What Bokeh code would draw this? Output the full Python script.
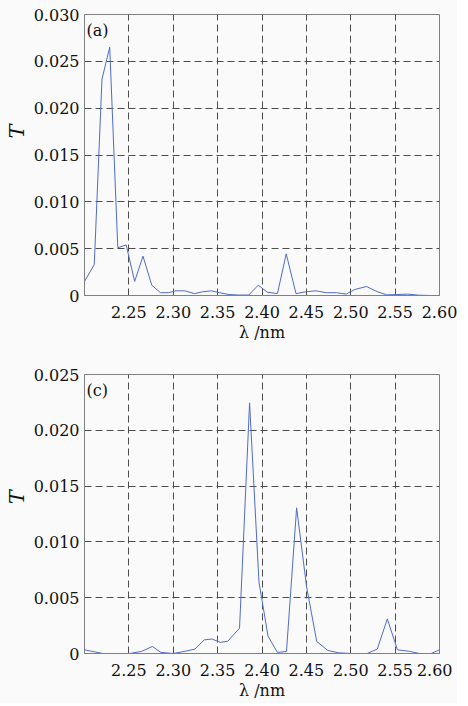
from bokeh.plotting import figure
from bokeh.layouts import column
from bokeh.models import FixedTicker, NumeralTickFormatter, Range1d, Label
from bokeh.embed import file_html
from bokeh.resources import INLINE

# Panel (a)
lam_a = [2.200, 2.211, 2.2197, 2.2284, 2.2375, 2.247, 2.2565, 2.2659, 2.2758, 2.2856,
         2.2947, 2.303, 2.313, 2.324, 2.333, 2.343, 2.352, 2.363, 2.374, 2.385,
         2.3958, 2.406, 2.4174, 2.4273, 2.4383, 2.4497, 2.461, 2.4724, 2.4838, 2.495,
         2.5045, 2.5178, 2.530, 2.5406, 2.552, 2.564, 2.577, 2.590, 2.600]
T_a = [0.0015, 0.0033, 0.0231, 0.0265, 0.0051, 0.0054, 0.0015, 0.0042, 0.0011, 0.0003,
       0.0003, 0.0005, 0.0005, 0.0002, 0.0004, 0.0005, 0.0003, 0.0001, 0.00005, 0.00005,
       0.0011, 0.00035, 0.0002, 0.00445, 0.0002, 0.0004, 0.0005, 0.0003, 0.0003, 0.00015,
       0.00064, 0.00096, 0.0004, 0.00007, 0.0001, 0.00015, 0.00003, 0.0, 0.0]

# Panel (c)
lam_c = [2.200, 2.2205, 2.2508, 2.264, 2.2765, 2.286, 2.300, 2.3133, 2.3246, 2.3349,
         2.3435, 2.353, 2.3614, 2.3747, 2.386, 2.3966, 2.4068, 2.4174, 2.4276, 2.439,
         2.4503, 2.4617, 2.4742, 2.4864, 2.500, 2.5185, 2.5299, 2.5412, 2.5526, 2.5659,
         2.5773, 2.5906, 2.600]
T_c = [0.00033, 0.0, 0.0, 0.00018, 0.00063, 0.0001, 0.0, 0.0002, 0.0004, 0.00122,
       0.0013, 0.001, 0.0011, 0.00227, 0.02246, 0.0064, 0.00155, 0.0001, 0.00018, 0.01305,
       0.00594, 0.00107, 0.00027, 0.00006, 0.0, 0.0, 0.0004, 0.0031, 0.00033, 0.0002,
       0.0, 0.0, 0.00033]

x_ticks = [2.25, 2.30, 2.35, 2.40, 2.45, 2.50, 2.55, 2.60]
y_ticks_a = [0, 0.005, 0.010, 0.015, 0.020, 0.025, 0.030]
y_ticks_c = [0, 0.005, 0.010, 0.015, 0.020, 0.025]

FONT = "DejaVu Serif"
BG = "#fafafa"
LINE = "#4f6bc9"
GRID = "#4d4d4d"
FRAME = "#808080"
NBSP = "\u00a0"


def make(lam, T, yticks, ymax, tag, border_left, border_right, border_top, border_bottom,
         fh, lift):
    p = figure(frame_width=355, frame_height=fh, output_backend="svg", toolbar_location=None,
               x_range=Range1d(2.2, 2.6), y_range=Range1d(0, ymax),
               min_border_left=border_left, min_border_right=border_right,
               min_border_top=border_top, min_border_bottom=border_bottom)
    p.background_fill_color = BG
    p.border_fill_color = BG
    p.outline_line_color = FRAME
    p.outline_line_width = 1
    p.line(lam, T, line_color=LINE, line_width=1)

    p.xaxis.ticker = FixedTicker(ticks=x_ticks)
    p.yaxis.ticker = FixedTicker(ticks=yticks)
    p.xaxis.formatter = NumeralTickFormatter(format="0.00")
    p.yaxis.formatter = NumeralTickFormatter(format="0.000")
    p.yaxis.major_label_overrides = {0: "0"}
    for ax in (p.xaxis, p.yaxis):
        ax.major_tick_out = 0
        ax.major_tick_in = 0
        ax.minor_tick_out = 0
        ax.minor_tick_in = 0
        ax.axis_line_color = FRAME
        ax.major_label_text_font = FONT
        ax.major_label_text_font_size = "16px"
        ax.major_label_text_color = "#111111"
        ax.axis_label_text_font = FONT
        ax.axis_label_text_color = "#111111"
    p.xaxis.major_label_standoff = 10
    p.yaxis.major_label_standoff = 5
    p.xaxis.axis_label = "λ /nm"
    p.xaxis.axis_label_text_font_size = "16px"
    p.xaxis.axis_label_text_font_style = "normal"
    p.xaxis.axis_label_standoff = 2
    p.yaxis.axis_label = NBSP * lift + "T"
    p.yaxis.axis_label_text_font_size = "21px"
    p.yaxis.axis_label_text_font_style = "italic"
    p.yaxis.axis_label_standoff = 2

    p.xgrid.grid_line_color = GRID
    p.ygrid.grid_line_color = GRID
    p.xgrid.grid_line_dash = "7 4"
    p.ygrid.grid_line_dash = "7 4"
    p.xgrid.grid_line_width = 1
    p.ygrid.grid_line_width = 1

    p.add_layout(Label(x=2.2, y=ymax, text=tag, x_offset=2, y_offset=-6,
                       text_baseline="top", text_font=FONT, text_font_size="16px",
                       text_color="#111111"))
    return p


p1 = make(lam_a, T_a, y_ticks_a, 0.030, "(a)", 78, 19, 14, 50, 281, 7)
p2 = make(lam_c, T_c, y_ticks_c, 0.025, "(c)", 84, 13, 29, 50, 279, 5)

layout = column(p1, p2, spacing=0)
layout.background = BG

open("out.html", "w").write(file_html(layout, INLINE))
